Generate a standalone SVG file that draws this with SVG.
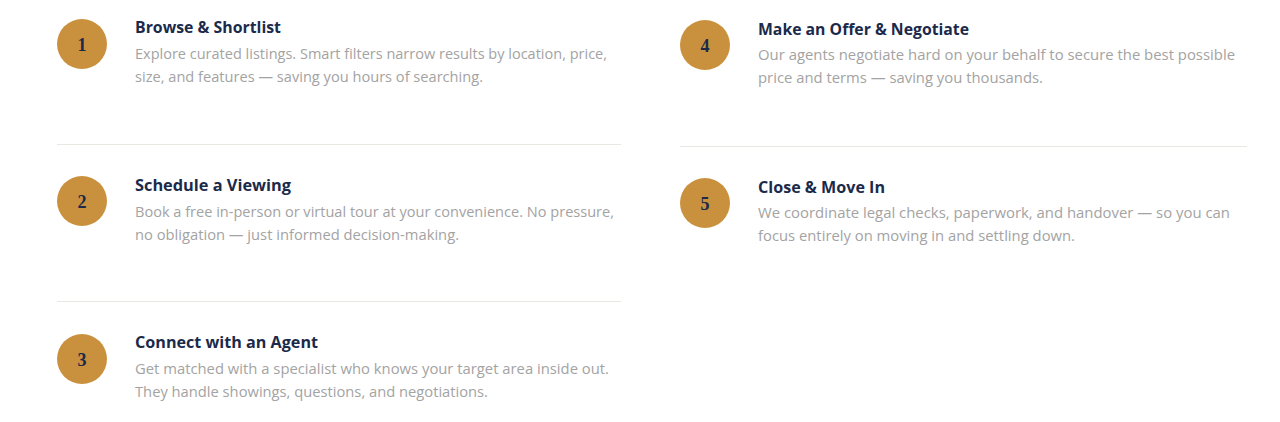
<svg xmlns="http://www.w3.org/2000/svg" width="1280" height="422" viewBox="0 0 1280 422">
<style>
.bg{fill:#ffffff}
.badge{fill:#c9913d}
.num{font-family:"Liberation Serif","DejaVu Serif",serif;font-weight:bold;font-size:18px;fill:#1b2a4a;text-anchor:middle}
.title{font-family:"Open Sans","DejaVu Sans",sans-serif;font-weight:bold;font-size:15.5px;fill:#1b2a4a}
.desc{font-family:"Open Sans","DejaVu Sans",sans-serif;font-size:14px;fill:#a3a3a3}
.div{stroke:#e9e7e1;stroke-width:1}
</style>
<rect class="bg" x="0" y="0" width="1280" height="422"/>
<g id="dividers">
<line class="div" x1="57" y1="144.5" x2="621" y2="144.5"/>
<line class="div" x1="57" y1="301.5" x2="621" y2="301.5"/>
<line class="div" x1="680" y1="146.5" x2="1247" y2="146.5"/>
</g>
<g id="step1">
<circle class="badge" cx="82" cy="44" r="25"/>
<text class="num" x="82" y="50.5">1</text>
<text class="title" x="135" y="33" textLength="146" lengthAdjust="spacingAndGlyphs">Browse &amp; Shortlist</text>
<text class="desc" x="135" y="59" textLength="472" lengthAdjust="spacingAndGlyphs">Explore curated listings. Smart filters narrow results by location, price,</text>
<text class="desc" x="135" y="81.5" textLength="348" lengthAdjust="spacingAndGlyphs">size, and features — saving you hours of searching.</text>
</g>
<g id="step2">
<circle class="badge" cx="82" cy="201" r="25"/>
<text class="num" x="82" y="207.5">2</text>
<text class="title" x="135" y="191" textLength="156" lengthAdjust="spacingAndGlyphs">Schedule a Viewing</text>
<text class="desc" x="135" y="217" textLength="479" lengthAdjust="spacingAndGlyphs">Book a free in-person or virtual tour at your convenience. No pressure,</text>
<text class="desc" x="135" y="239.5" textLength="324" lengthAdjust="spacingAndGlyphs">no obligation — just informed decision-making.</text>
</g>
<g id="step3">
<circle class="badge" cx="82" cy="359" r="25"/>
<text class="num" x="82" y="365.5">3</text>
<text class="title" x="135" y="348" textLength="183" lengthAdjust="spacingAndGlyphs">Connect with an Agent</text>
<text class="desc" x="135" y="374" textLength="474" lengthAdjust="spacingAndGlyphs">Get matched with a specialist who knows your target area inside out.</text>
<text class="desc" x="135" y="396.5" textLength="353" lengthAdjust="spacingAndGlyphs">They handle showings, questions, and negotiations.</text>
</g>
<g id="step4">
<circle class="badge" cx="705" cy="45" r="25"/>
<text class="num" x="705" y="51.5">4</text>
<text class="title" x="758" y="35" textLength="211" lengthAdjust="spacingAndGlyphs">Make an Offer &amp; Negotiate</text>
<text class="desc" x="758" y="60" textLength="477" lengthAdjust="spacingAndGlyphs">Our agents negotiate hard on your behalf to secure the best possible</text>
<text class="desc" x="758" y="82.5" textLength="285" lengthAdjust="spacingAndGlyphs">price and terms — saving you thousands.</text>
</g>
<g id="step5">
<circle class="badge" cx="705" cy="203" r="25"/>
<text class="num" x="705" y="209.5">5</text>
<text class="title" x="758" y="193" textLength="127" lengthAdjust="spacingAndGlyphs">Close &amp; Move In</text>
<text class="desc" x="758" y="218" textLength="472" lengthAdjust="spacingAndGlyphs">We coordinate legal checks, paperwork, and handover — so you can</text>
<text class="desc" x="758" y="240.5" textLength="317" lengthAdjust="spacingAndGlyphs">focus entirely on moving in and settling down.</text>
</g>
</svg>
